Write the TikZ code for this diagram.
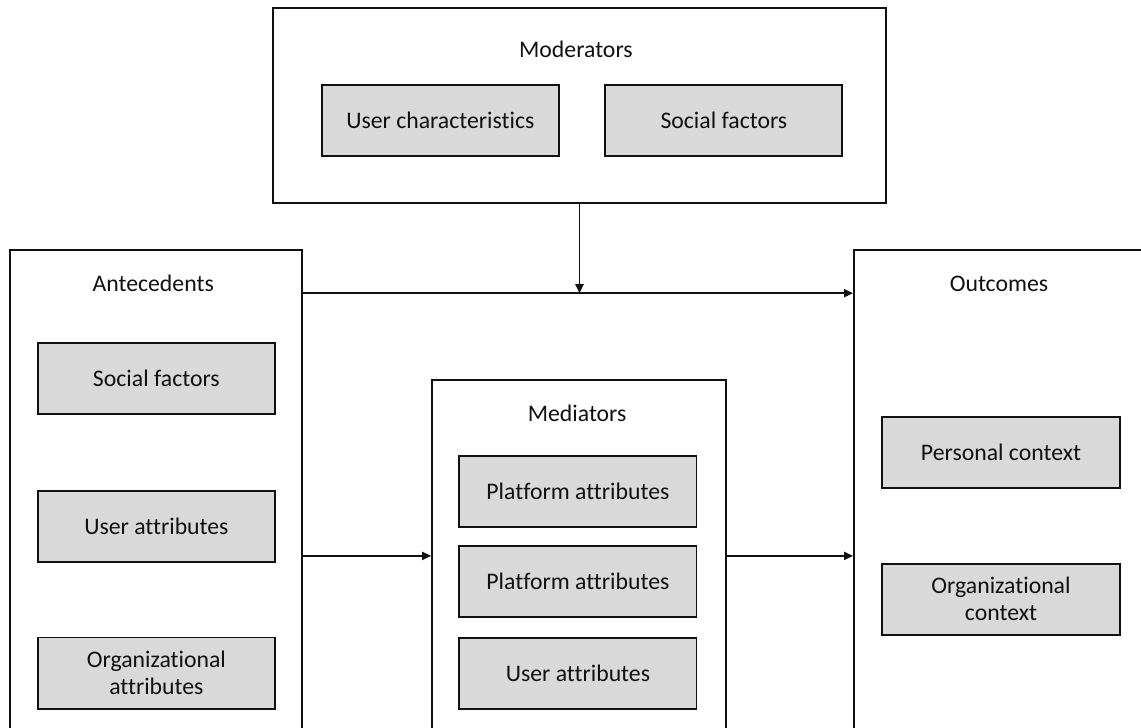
\documentclass[tikz,border=0pt]{standalone}
\usepackage{fontspec}
\setmainfont{Carlito}[Ligatures={NoCommon}]
\usetikzlibrary{arrows.meta,fit,backgrounds,calc}
\definecolor{ink}{HTML}{111111}
\definecolor{factorfill}{HTML}{D9D9D9}
\tikzset{
  % ---- panels ----------------------------------------------------
  panel/.style      = {draw=ink, line width=1.2pt, fill=white,
                       inner sep=0pt},
  paneltitle/.style = {anchor=base, inner sep=0pt, text=ink},
  % ---- factors ---------------------------------------------------
  factor/.style     = {draw=ink, line width=1.4pt, fill=factorfill,
                       minimum width=5.93cm, minimum height=1.78cm,
                       inner sep=2pt, align=center, text=ink},
  % ---- links -----------------------------------------------------
  link/.style       = {draw=ink, line width=1.1pt,
                       -{Triangle[length=6.4pt,width=5.8pt]}},
}

\begin{document}
\begin{tikzpicture}[font=\fontsize{16.9}{19.4}\selectfont]
\useasboundingbox (0,0) rectangle (28.53,-18.20);
\begin{scope}[scale=1.0]
  % moderators
  \node[paneltitle] (modtitle) at (14.40,-1.43) {Moderators};
  \node[factor] (usrchar) at (11.01,-3.01) {User characteristics};
  \node[factor] (socmod) at (18.10,-3.01) {Social factors};
  % antecedents
  \node[paneltitle] (antetitle) at (3.83,-7.28) {Antecedents};
  \node[factor] (antesoc) at (3.91,-9.46) {Social factors};
  \node[factor] (anteusr) at (3.91,-13.16) {User attributes};
  \node[factor] (anteorg) at (3.91,-16.83) {Organizational\\attributes};
  % mediators
  \node[paneltitle] (medititle) at (14.43,-10.55) {Mediators};
  \node[factor] (mediplat) at (14.45,-12.28) {Platform attributes};
  \node[factor] (mediplatb) at (14.45,-14.54) {Platform attributes};
  \node[factor] (mediusr) at (14.45,-16.84) {User attributes};
  % outcomes
  \node[paneltitle] (outctitle) at (24.98,-7.28) {Outcomes};
  \node[factor] (outcpers) at (25.03,-11.31) {Personal context};
  \node[factor] (outcorg) at (25.03,-14.98) {Organizational\\context};
  \begin{scope}[on background layer]
    \node[panel, fit={(6.83,-0.20) (22.15,-5.08)}] (mod) {};
    \node[panel, fit={(0.25,-6.25) (7.55,-18.63)}] (ante) {};
    \node[panel, fit={(10.80,-9.50) (18.15,-18.63)}] (medi) {};
    \node[panel, fit={(21.35,-6.25) (29.25,-18.63)}] (outc) {};
  \end{scope}
  \coordinate (toprow) at (0,-7.33);
  \coordinate (midrow) at (0,-13.90);
  \draw[link] (ante.east |- toprow) -- (outc.west |- toprow);
  \draw[link] (mod.south) -- (mod.south |- toprow);
  \draw[link] (ante.east |- midrow) -- (medi.west |- midrow);
  \draw[link] (medi.east |- midrow) -- (outc.west |- midrow);
\end{scope}
\end{tikzpicture}
\end{document}
